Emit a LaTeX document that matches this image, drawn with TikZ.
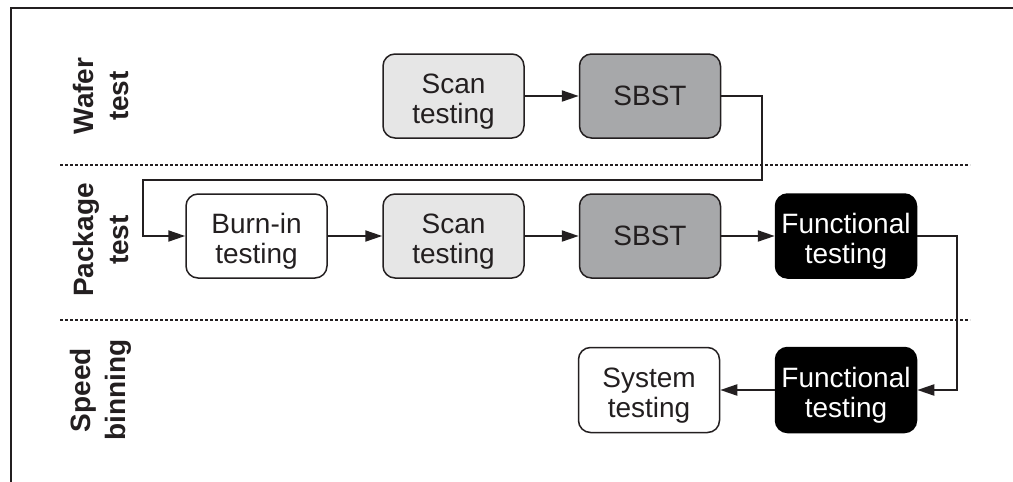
\documentclass[tikz,border=0pt]{standalone}
\usepackage{fontspec}
\setmainfont{Liberation Sans}
\usetikzlibrary{arrows.meta}
\definecolor{txt}{HTML}{231F20}
\definecolor{lightg}{HTML}{E6E6E6}
\definecolor{midg}{HTML}{A7A8AA}
\newcommand{\twoline}[2]{\begin{tabular}{@{}c@{}}#1\\#2\end{tabular}}
\begin{document}
\begin{tikzpicture}[x=1pt,y=-1pt,
  box/.style={draw=txt, line width=1.5pt, rounded corners=12pt, minimum width=141pt, minimum height=84pt, align=center, inner sep=0pt, text=txt, font=\fontsize{28}{30}\selectfont},
  two/.style={text height=40pt, text depth=14pt},
  wbox/.style={box, fill=white},
  lbox/.style={box, fill=lightg},
  gbox/.style={box, fill=midg},
  bbox/.style={box, fill=black, draw=black, text=white},
  conn/.style={draw=txt, line width=2pt, -{Triangle[length=17pt,width=11pt]}},
  sep/.style={draw=txt, line width=1.5pt, dash pattern=on 3pt off 2pt},
  lab/.style={rotate=90, align=center, text=txt, font=\fontsize{28}{35}\selectfont\bfseries},
  frame/.style={draw=txt, line width=2.5pt}]
\useasboundingbox (0,0) rectangle (1013,482);
% frame
\draw[frame] (1013,8) -- (11,8) -- (11,482);
% separators
\draw[sep] (60,165) -- (970,165);
\draw[sep] (60,320) -- (970,320);
% row labels
\node[lab] (lw) at (101,96) {Wafer\\test};
\node[lab] (lp) at (101,240) {Package\\test};
\node[lab] (ls) at (101,390) {Speed\\binning};
% wafer row
\node[lbox, two] (wscan) at (453.5,96) {\twoline{Scan}{testing}};
\node[gbox] (wsbst) at (650,96) {SBST};
% package row
\node[wbox, two] (burn) at (256.5,236) {\twoline{Burn-in}{testing}};
\node[lbox, two] (pscan) at (453.5,236) {\twoline{Scan}{testing}};
\node[gbox] (psbst) at (650,236) {SBST};
\node[bbox, two] (pfunc) at (846,236) {\twoline{Functional}{testing}};
% speed binning row
\node[bbox, two, minimum height=85pt] (sfunc) at (846,390) {\twoline{Functional}{testing}};
\node[wbox, two, minimum height=85pt] (sys) at (649,390) {\twoline{System}{testing}};
% helper coordinates
\coordinate (c1) at (762,180);
\coordinate (c2) at (143,180);
\coordinate (c3) at (957,300);
% connectors
\draw[conn] (wscan) -- (wsbst);
\draw[conn] (wsbst.east) -| (c1) -- (c2) |- (burn.west);
\draw[conn] (burn) -- (pscan);
\draw[conn] (pscan) -- (psbst);
\draw[conn] (psbst) -- (pfunc);
\draw[conn] (pfunc.east) -| (c3) |- (sfunc.east);
\draw[conn] (sfunc) -- (sys);
\end{tikzpicture}
\end{document}
